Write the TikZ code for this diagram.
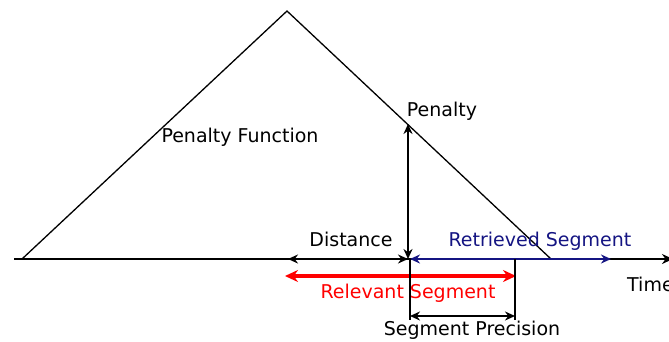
\documentclass[tikz,border=0pt]{standalone}
\usepackage{fontspec}
\setmainfont{DejaVu Sans}
\usetikzlibrary{arrows.meta}
\definecolor{navy}{RGB}{20,20,130}
\tikzset{
  lbl/.style={font=\fontsize{19}{22}\selectfont, inner sep=0pt},
  dbl/.style={line width=2.2pt, {Stealth[length=10pt,width=9pt]}-{Stealth[length=10pt,width=9pt]}},
  thin/.style={line width=1.3pt}
}
\begin{document}
\begin{tikzpicture}[x=1pt,y=-1pt]
\useasboundingbox (0,0) rectangle (669,341);
% triangle
\coordinate (L) at (22,259);
\coordinate (A) at (287,11);
\coordinate (R) at (551,259);
\draw[thin] (L) -- (A) -- (R);
% axis
\coordinate (ax0) at (14,259);
\coordinate (ax1) at (673,259);
\draw[line width=2.2pt,-{Stealth[length=11pt,width=10pt]}] (ax0) -- (ax1);
% distance
\coordinate (d0) at (288,259);
\coordinate (d1) at (408,259);
\draw[dbl] (d0) -- (d1);
% penalty
\coordinate (p1) at (408,124);
\draw[dbl] (d1) -- (p1);
% retrieved
\coordinate (r0) at (410,259);
\coordinate (r1) at (611,259);
\draw[dbl,navy] (r0) -- (r1);
% relevant
\coordinate (v0) at (285,276);
\coordinate (v1) at (516,276);
\draw[red,line width=4pt,{Stealth[length=13pt,width=12pt]}-{Stealth[length=13pt,width=12pt]}] (v0) -- (v1);
% precision ticks
\coordinate (t0a) at (410,259);
\coordinate (t0b) at (410,320);
\coordinate (t1a) at (515,259);
\coordinate (t1b) at (515,320);
\draw[thin] (t0a) -- (t0b);
\draw[thin] (t1a) -- (t1b);
\coordinate (s0) at (410,316);
\coordinate (s1) at (515,316);
\draw[dbl] (s0) -- (s1);
% labels
\node[lbl] (pf) at (240,137) {Penalty Function};
\node[lbl] (pen) at (442,111) {Penalty};
\node[lbl] (dist) at (351,239) {Distance};
\node[lbl,text=navy] (ret) at (540,241) {Retrieved Segment};
\node[lbl,text=red] (rel) at (408,293) {Relevant Segment};
\node[lbl] (sp) at (472,330) {Segment Precision};
\node[lbl,anchor=west] (time) at (627,284) {Time};
\end{tikzpicture}
\end{document}
